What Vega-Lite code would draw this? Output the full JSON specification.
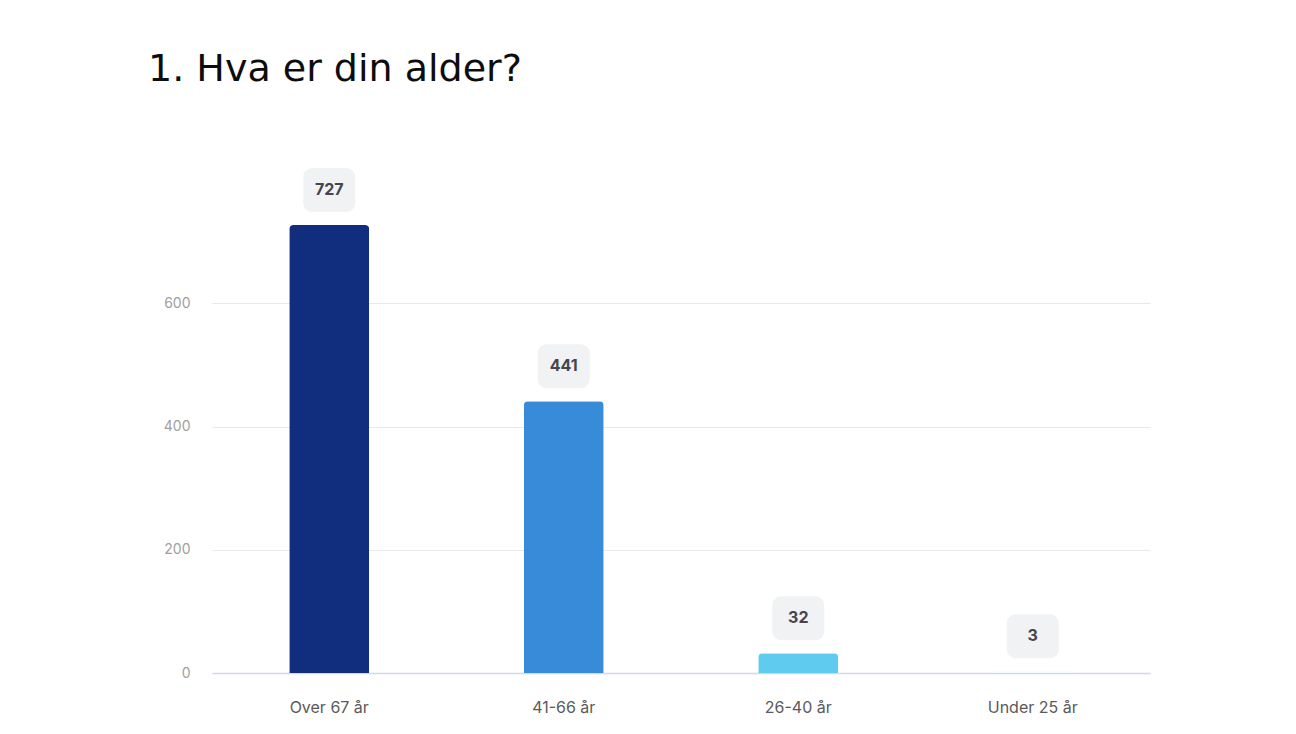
{
  "$schema": "https://vega.github.io/schema/vega-lite/v6.json",
  "autosize": "none",
  "width": 938,
  "height": 493,
  "padding": {"left": 212, "top": 180, "right": 146, "bottom": 61},
  "background": "white",
  "config": {"view": {"stroke": null}},
  "title": {
    "text": "1. Hva er din alder?",
    "anchor": "start",
    "frame": "group",
    "dx": -64,
    "dy": -49,
    "font": "DejaVu Sans",
    "fontSize": 38,
    "fontWeight": "normal",
    "color": "#0d0d0d",
    "baseline": "alphabetic",
    "offset": 0
  },
  "data": {
    "values": [
      {"alder": "Over 67 år", "antall": 727, "farge": "#112D7E"},
      {"alder": "41-66 år", "antall": 441, "farge": "#388BD9"},
      {"alder": "26-40 år", "antall": 32, "farge": "#5ECBEF"},
      {"alder": "Under 25 år", "antall": 3, "farge": "#F2FAFD"}
    ]
  },
  "encoding": {
    "x": {
      "field": "alder",
      "type": "nominal",
      "sort": null,
      "scale": {"paddingInner": 0, "paddingOuter": 0},
      "axis": {
        "title": null,
        "labelAngle": 0,
        "ticks": false,
        "labelFont": "Inter",
        "labelFontSize": 16,
        "labelColor": "#5a5a5a",
        "labelPadding": 26,
        "domainColor": "#cfd8ee",
        "domainWidth": 1.5,
        "grid": false
      }
    },
    "y": {
      "field": "antall",
      "type": "quantitative",
      "scale": {"domain": [0, 800], "nice": false},
      "axis": {
        "title": null,
        "values": [0, 200, 400, 600],
        "ticks": false,
        "domain": false,
        "labelFont": "Inter",
        "labelFontSize": 14,
        "labelColor": "#a0a0a0",
        "labelPadding": 22,
        "gridColor": "#e8e9ee",
        "gridWidth": 1
      }
    }
  },
  "layer": [
    {
      "mark": {"type": "bar", "width": 80, "cornerRadiusTopLeft": 4, "cornerRadiusTopRight": 4},
      "encoding": {
        "color": {"field": "farge", "type": "nominal", "scale": null, "legend": null}
      }
    },
    {
      "mark": {"type": "rect", "width": 52, "height": 44, "cornerRadius": 9, "yOffset": -35, "color": "#f1f2f3"}
    },
    {
      "mark": {"type": "text", "dy": -35, "font": "Inter", "fontSize": 16, "fontWeight": "bold", "color": "#45454f", "baseline": "middle"},
      "encoding": {"text": {"field": "antall", "type": "quantitative"}}
    }
  ]
}
